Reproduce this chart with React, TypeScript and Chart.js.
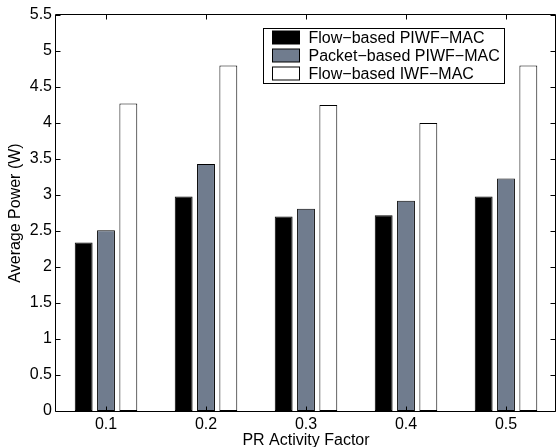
import React, { useEffect, useRef } from "react";
import { Chart, registerables } from "chart.js";

Chart.register(...registerables);

const categories = ["0.1", "0.2", "0.3", "0.4", "0.5"];
const flowPIWF = [2.34, 2.98, 2.7, 2.72, 2.98];
const packetPIWF = [2.51, 3.43, 2.81, 2.92, 3.23];
const flowIWF = [4.27, 4.8, 4.25, 4.0, 4.8];
const seriesLabels = ["Flow−based PIWF−MAC", "Packet−based PIWF−MAC", "Flow−based IWF−MAC"];
const seriesColors = ["#000000", "#707c8e", "#ffffff"];
const yMin = 0;
const yMax = 5.5;
const yStep = 0.5;
const xTitle = "PR Activity Factor";
const yTitle = "Average Power (W)";

const FONT = "'Liberation Sans', Arial, Helvetica, sans-serif";

const framePlugin = {
  id: "matlabFrame",
  afterDraw(chart: any) {
    const { ctx, chartArea, scales } = chart;
    const { left, right, top, bottom } = chartArea;
    const x = scales.x;
    const y = scales.y;
    const L = Math.round(left) - 0.5;
    const R = Math.round(right) - 0.5;
    const T = Math.round(top) - 0.5;
    const B = Math.round(bottom) + 0.5;
    const tl = 5;
    ctx.save();
    ctx.strokeStyle = "#000";
    ctx.lineWidth = 1;
    ctx.beginPath();
    ctx.rect(L, T, R - L, B - T);
    ctx.stroke();
    ctx.beginPath();
    x.ticks.forEach((_t: any, i: number) => {
      const px = Math.round(x.getPixelForTick(i)) + 0.5;
      ctx.moveTo(px, B);
      ctx.lineTo(px, B - tl);
      ctx.moveTo(px, T);
      ctx.lineTo(px, T + tl);
    });
    y.ticks.forEach((_t: any, i: number) => {
      const py = Math.round(y.getPixelForTick(i)) + 0.5;
      ctx.moveTo(L, py);
      ctx.lineTo(L + tl, py);
      ctx.moveTo(R, py);
      ctx.lineTo(R - tl, py);
    });
    ctx.stroke();

    // legend box
    const bx = Math.round(left + 207) + 0.5;
    const by = Math.round(top + 13) + 0.5;
    const bw = 241;
    const bh = 55;
    ctx.fillStyle = "#fff";
    ctx.fillRect(bx, by, bw, bh);
    ctx.strokeRect(bx, by, bw, bh);
    ctx.font = `16px ${FONT}`;
    ctx.textBaseline = "middle";
    ctx.textAlign = "left";
    chart.data.datasets.forEach((ds: any, i: number) => {
      const cy = by + 9.5 + i * 18;
      ctx.fillStyle = ds.backgroundColor;
      ctx.fillRect(bx + 9, cy - 7, 27, 13);
      ctx.strokeStyle = "#000";
      ctx.strokeRect(bx + 9, cy - 7, 27, 13);
      ctx.fillStyle = "#000";
      ctx.fillText(ds.label, bx + 45, cy + 1);
    });
    ctx.restore();
  },
};

export default function App() {
  const ref = useRef<HTMLCanvasElement | null>(null);
  useEffect(() => {
    document.body.style.margin = "0";
    const canvas = ref.current;
    if (!canvas) return;
    const datasets = [flowPIWF, packetPIWF, flowIWF].map((d, i) => ({
      label: seriesLabels[i],
      data: d,
      backgroundColor: seriesColors[i],
      borderColor: "#000",
      borderWidth: 1,
      borderSkipped: false as const,
      categoryPercentage: 0.67,
      barPercentage: 0.8,
    }));
    const chart = new Chart(canvas, {
      type: "bar",
      data: { labels: categories, datasets },
      options: {
        animation: false,
        responsive: true,
        maintainAspectRatio: false,
        layout: { padding: { top: 15, right: 2, left: 0, bottom: 0 } },
        plugins: { legend: { display: false }, tooltip: { enabled: false } },
        scales: {
          x: {
            grid: { display: false, drawTicks: false },
            border: { display: false },
            ticks: { color: "#000", font: { family: FONT, size: 16 }, padding: 4 },
            title: {
              display: true,
              text: xTitle,
              color: "#000",
              font: { family: FONT, size: 16 },
              padding: { top: 0, bottom: -3 },
            },
            afterFit(scale: any) {
              scale.height = 36;
            },
          },
          y: {
            min: yMin,
            max: yMax,
            grid: { display: false, drawTicks: false },
            border: { display: false },
            ticks: {
              stepSize: yStep,
              color: "#000",
              font: { family: FONT, size: 16 },
              padding: 4,
              callback: (v: any) => String(Number(v)),
            },
            title: {
              display: true,
              text: yTitle,
              color: "#000",
              font: { family: FONT, size: 16 },
              padding: { top: 6, bottom: 0 },
            },
            afterFit(scale: any) {
              scale.width = 56;
            },
          },
        },
      },
      plugins: [framePlugin],
    });
    return () => chart.destroy();
  }, []);
  return (
    <div style={{ width: 558, height: 447, position: "relative" }}>
      <canvas ref={ref} />
    </div>
  );
}
